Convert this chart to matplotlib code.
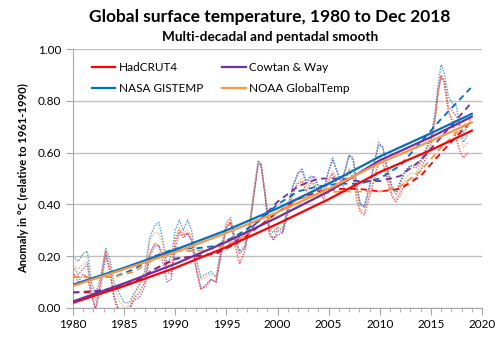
import matplotlib
matplotlib.use("Agg")
from matplotlib import pyplot as plt
from matplotlib.ticker import MultipleLocator, FormatStrFormatter

plt.rcParams['font.family'] = ['Lato', 'DejaVu Sans']

# pentadal-ish smooth (dotted)
t_dot = [1980.0, 1980.5, 1981.0, 1981.4, 1981.8, 1982.2, 1982.7, 1983.2, 1983.6, 1984.0,
         1984.5, 1985.0, 1985.5, 1986.0, 1986.5, 1987.0, 1987.5, 1988.0, 1988.4, 1988.8,
         1989.2, 1989.6, 1990.0, 1990.4, 1990.8, 1991.2, 1991.6, 1992.0, 1992.5, 1993.0,
         1993.5, 1994.0, 1994.5, 1995.0, 1995.4, 1995.8, 1996.3, 1996.8, 1997.3, 1997.7,
         1998.1, 1998.4, 1998.8, 1999.2, 1999.6, 2000.0, 2000.5, 2001.0, 2001.5, 2002.0,
         2002.4, 2002.8, 2003.2, 2003.6, 2004.0, 2004.5, 2005.0, 2005.4, 2005.8, 2006.2,
         2006.6, 2007.0, 2007.4, 2007.8, 2008.1, 2008.5, 2009.0, 2009.5, 2009.9, 2010.3,
         2010.7, 2011.2, 2011.6, 2012.0, 2012.5, 2013.0, 2013.5, 2014.0, 2014.5, 2015.0,
         2015.4, 2015.7, 2016.0, 2016.3, 2016.7, 2017.1, 2017.5, 2017.9, 2018.2, 2018.6]

had_dot = [0.14, 0.10, 0.13, 0.12, 0.05, 0.00, 0.10, 0.22, 0.14, 0.04,
           -0.02, -0.04, -0.01, 0.04, 0.06, 0.10, 0.21, 0.25, 0.24, 0.21,
           0.14, 0.13, 0.26, 0.30, 0.28, 0.29, 0.26, 0.16, 0.07, 0.09,
           0.11, 0.10, 0.21, 0.31, 0.33, 0.25, 0.17, 0.22, 0.32, 0.44,
           0.56, 0.56, 0.43, 0.28, 0.27, 0.28, 0.29, 0.36, 0.44, 0.48,
           0.49, 0.45, 0.48, 0.48, 0.45, 0.42, 0.49, 0.52, 0.48, 0.45,
           0.49, 0.53, 0.50, 0.41, 0.37, 0.36, 0.43, 0.50, 0.56, 0.56,
           0.50, 0.43, 0.41, 0.44, 0.48, 0.50, 0.50, 0.53, 0.58, 0.63,
           0.72, 0.83, 0.90, 0.87, 0.76, 0.72, 0.65, 0.60, 0.58, 0.60]

cw_dot = [0.16, 0.13, 0.15, 0.17, 0.06, -0.01, 0.08, 0.20, 0.15, 0.05,
          -0.01, -0.03, 0.00, 0.03, 0.04, 0.08, 0.20, 0.24, 0.24, 0.17,
          0.10, 0.11, 0.23, 0.29, 0.27, 0.29, 0.26, 0.16, 0.08, 0.08,
          0.11, 0.10, 0.22, 0.31, 0.33, 0.27, 0.21, 0.23, 0.32, 0.44,
          0.55, 0.55, 0.43, 0.30, 0.26, 0.30, 0.29, 0.38, 0.47, 0.52,
          0.53, 0.48, 0.50, 0.51, 0.47, 0.45, 0.53, 0.57, 0.53, 0.49,
          0.53, 0.59, 0.58, 0.46, 0.40, 0.39, 0.47, 0.57, 0.64, 0.62,
          0.54, 0.46, 0.44, 0.48, 0.53, 0.55, 0.55, 0.57, 0.61, 0.66,
          0.74, 0.84, 0.89, 0.88, 0.78, 0.76, 0.74, 0.70, 0.68, 0.70]

gis_dot = [0.20, 0.18, 0.21, 0.22, 0.10, 0.05, 0.12, 0.23, 0.19, 0.10,
           0.06, 0.02, 0.02, 0.06, 0.09, 0.14, 0.27, 0.32, 0.33, 0.26,
           0.17, 0.20, 0.30, 0.34, 0.30, 0.34, 0.30, 0.20, 0.12, 0.13,
           0.14, 0.12, 0.24, 0.33, 0.35, 0.28, 0.22, 0.24, 0.33, 0.45,
           0.57, 0.55, 0.44, 0.31, 0.29, 0.31, 0.30, 0.39, 0.47, 0.52,
           0.54, 0.49, 0.51, 0.50, 0.47, 0.45, 0.53, 0.58, 0.53, 0.48,
           0.53, 0.59, 0.57, 0.46, 0.40, 0.39, 0.47, 0.56, 0.63, 0.62,
           0.55, 0.47, 0.45, 0.49, 0.53, 0.55, 0.54, 0.56, 0.61, 0.66,
           0.75, 0.86, 0.94, 0.91, 0.82, 0.79, 0.78, 0.68, 0.64, 0.67]

noaa_dot = [0.17, 0.15, 0.17, 0.18, 0.08, 0.03, 0.11, 0.22, 0.17, 0.08,
            0.03, 0.00, 0.01, 0.05, 0.08, 0.13, 0.26, 0.29, 0.29, 0.24,
            0.16, 0.18, 0.27, 0.31, 0.29, 0.30, 0.28, 0.19, 0.11, 0.12,
            0.13, 0.12, 0.23, 0.32, 0.34, 0.27, 0.21, 0.24, 0.34, 0.46,
            0.56, 0.55, 0.44, 0.32, 0.30, 0.31, 0.31, 0.38, 0.45, 0.49,
            0.50, 0.47, 0.49, 0.48, 0.46, 0.44, 0.50, 0.53, 0.50, 0.47,
            0.50, 0.54, 0.52, 0.43, 0.38, 0.37, 0.44, 0.52, 0.58, 0.58,
            0.52, 0.44, 0.42, 0.46, 0.50, 0.52, 0.52, 0.55, 0.60, 0.65,
            0.73, 0.83, 0.89, 0.87, 0.77, 0.73, 0.72, 0.66, 0.62, 0.64]

# decadal smooth (dashed)
t_dash = [1980, 1982, 1984, 1986, 1988, 1990, 1992, 1994, 1996, 1998,
          2000, 2002, 2004, 2006, 2008, 2010, 2012, 2014, 2016, 2018.9]
had_dash = [0.06, 0.06, 0.07, 0.10, 0.15, 0.19, 0.20, 0.21, 0.25, 0.31,
            0.37, 0.42, 0.45, 0.46, 0.46, 0.45, 0.46, 0.51, 0.60, 0.72]
cw_dash = [0.06, 0.065, 0.075, 0.10, 0.15, 0.19, 0.20, 0.21, 0.26, 0.33,
           0.41, 0.47, 0.50, 0.50, 0.49, 0.49, 0.51, 0.57, 0.66, 0.79]
gis_dash = [0.12, 0.12, 0.12, 0.15, 0.20, 0.23, 0.23, 0.24, 0.28, 0.33,
            0.40, 0.45, 0.47, 0.48, 0.48, 0.50, 0.55, 0.64, 0.73, 0.85]
noaa_dash = [0.12, 0.12, 0.12, 0.14, 0.19, 0.22, 0.22, 0.23, 0.26, 0.31,
             0.37, 0.42, 0.44, 0.45, 0.45, 0.45, 0.47, 0.53, 0.62, 0.73]

# multi-decadal smooth (solid)
t_sol = [1980, 1985, 1990, 1995, 2000, 2005, 2010, 2015, 2019]
had_sol = [0.02, 0.085, 0.155, 0.235, 0.325, 0.42, 0.525, 0.61, 0.685]
cw_sol = [0.025, 0.095, 0.17, 0.255, 0.35, 0.45, 0.57, 0.66, 0.739]
gis_sol = [0.09, 0.155, 0.225, 0.30, 0.385, 0.48, 0.585, 0.675, 0.75]
noaa_sol = [0.085, 0.15, 0.215, 0.29, 0.37, 0.46, 0.56, 0.645, 0.717]

names = ["HadCRUT4", "Cowtan & Way", "NASA GISTEMP", "NOAA GlobalTemp"]
colors = ["#FF0000", "#7030A0", "#0070C0", "#F79646"]
dots = [had_dot, cw_dot, gis_dot, noaa_dot]
dashes = [had_dash, cw_dash, gis_dash, noaa_dash]
solids = [had_sol, cw_sol, gis_sol, noaa_sol]

fig = plt.figure(figsize=(5.0, 3.46), dpi=100)
ax = fig.add_axes([0.146, 0.110, 0.818, 0.748])

for d, c in zip(dots, colors):
    ax.plot(t_dot, d, color=c, lw=1.0, ls=(0, (1, 1)), alpha=0.7, zorder=2)
for d, c in zip(dashes, colors):
    ax.plot(t_dash, d, color=c, lw=1.3, ls=(0, (3.5, 2.5)), zorder=3)
lines = []
for d, c, n in zip(solids, colors, names):
    l, = ax.plot(t_sol, d, color=c, lw=1.6, zorder=4, label=n)
    lines.append(l)

ax.set_xlim(1980, 2020)
ax.set_ylim(0, 1.0)
ax.xaxis.set_major_locator(MultipleLocator(5))
ax.xaxis.set_minor_locator(MultipleLocator(1))
ax.yaxis.set_major_locator(MultipleLocator(0.2))
ax.yaxis.set_major_formatter(FormatStrFormatter('%.2f'))
ax.grid(axis='y', color='#BFBFBF', lw=1.0)
ax.set_axisbelow(True)
for s in ['top', 'right']:
    ax.spines[s].set_visible(False)
for s in ['left', 'bottom']:
    ax.spines[s].set_color('#A6A6A6')
ax.tick_params(axis='x', which='major', length=5, color='#A6A6A6', labelsize=8.5, pad=3)
ax.tick_params(axis='x', which='minor', length=3, color='#A6A6A6')
ax.tick_params(axis='y', length=5, color='#A6A6A6', labelsize=8.5)
ax.set_ylabel("Anomaly in °C (relative to 1961-1990)", fontsize=8, fontweight='bold', labelpad=6)

leg = ax.legend([lines[0], lines[2], lines[1], lines[3]],
                [names[0], names[2], names[1], names[3]],
                ncol=2, frameon=False, loc='upper left', bbox_to_anchor=(0.02, 0.99),
                fontsize=8.5, handlelength=2.0, handletextpad=0.3, columnspacing=1.6,
                labelspacing=0.8)

fig.text(0.54, 0.950, "Global surface temperature, 1980 to Dec 2018", ha='center', va='center',
         fontsize=12.5, fontweight='bold')
fig.text(0.54, 0.893, "Multi-decadal and pentadal smooth", ha='center', va='center',
         fontsize=9.8, fontweight='bold')

fig.savefig("out.png", dpi=100)
